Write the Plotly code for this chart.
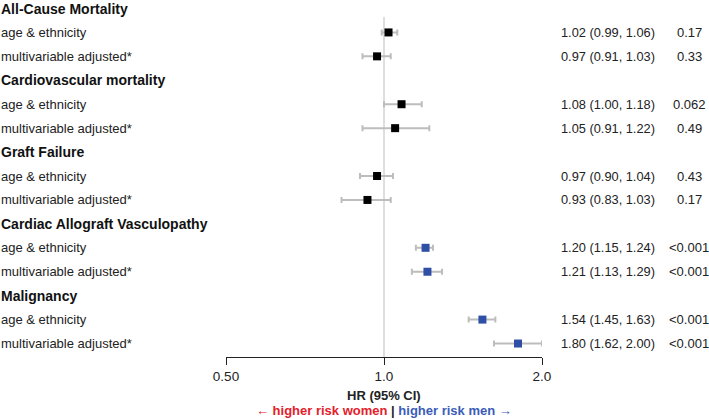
import plotly.graph_objects as go
import numpy as np

groups = ["All-Cause Mortality", "Cardiovascular mortality", "Graft Failure",
          "Cardiac Allograft Vasculopathy", "Malignancy"]
models = ["age & ethnicity", "multivariable adjusted*"]
hr = [1.02, 0.97, 1.08, 1.05, 0.97, 0.93, 1.20, 1.21, 1.54, 1.80]
lo = [0.99, 0.91, 1.00, 0.91, 0.90, 0.83, 1.15, 1.13, 1.45, 1.62]
hi = [1.06, 1.03, 1.18, 1.22, 1.04, 1.03, 1.24, 1.29, 1.63, 2.00]
pvals = ["0.17", "0.33", "0.062", "0.49", "0.43", "0.17", "<0.001", "<0.001", "<0.001", "<0.001"]
tick_vals = [0.5, 1.0, 2.0]
tick_text = ["0.50", "1.0", "2.0"]

FONT = "Liberation Sans, Arial, sans-serif"
BLACK = "#000000"
BLUE = "#2f4ea6"

# row positions: title rows and model rows
row_of_point = []
title_rows = []
r = 0
for g in groups:
    title_rows.append(r)
    r += 1
    for m in models:
        row_of_point.append(r)
        r += 1

L, R_px, W, H = 226, 542, 709, 419
plot_w = R_px - L
top_px, axis_px = 0, 357
row0_px, dy = 8.5, 23.93
y_top = (top_px - row0_px) / dy
y_bot = (axis_px - row0_px) / dy

def px_to_paper_x(px):
    return (px - L) / plot_w

fig = go.Figure()

# reference line at HR = 1
fig.add_shape(type="line", x0=1.0, x1=1.0, xref="x", yref="y",
              y0=(17 - row0_px) / dy, y1=y_bot,
              line=dict(color="#c8c8c8", width=1.2), layer="below")

colors = [BLUE if p.startswith("<") else BLACK for p in pvals]
fig.add_trace(go.Scatter(
    x=hr, y=row_of_point, mode="markers",
    marker=dict(symbol="square", size=8, color=colors, line=dict(width=0)),
    error_x=dict(type="data", symmetric=False,
                 array=[h - v for h, v in zip(hi, hr)],
                 arrayminus=[v - l for v, l in zip(hr, lo)],
                 color="#bdbdbd", thickness=2, width=3),
    showlegend=False, hoverinfo="skip"))

annotations = []
for g, tr in zip(groups, title_rows):
    annotations.append(dict(x=px_to_paper_x(-1), y=tr, xref="paper", yref="y",
                            text="<b>%s</b>" % g, showarrow=False, xanchor="left",
                            yanchor="middle", font=dict(family=FONT, size=14, color="#111")))
for i, rr in enumerate(row_of_point):
    annotations.append(dict(x=px_to_paper_x(-1), y=rr, xref="paper", yref="y",
                            text=models[i % 2], showarrow=False, xanchor="left",
                            yanchor="middle", font=dict(family=FONT, size=13, color="#222")))
    annotations.append(dict(x=px_to_paper_x(559), y=rr, xref="paper", yref="y",
                            text="%.2f (%.2f, %.2f)" % (hr[i], lo[i], hi[i]), showarrow=False,
                            xanchor="left", yanchor="middle",
                            font=dict(family=FONT, size=12.8, color="#222")))
    annotations.append(dict(x=px_to_paper_x(689), y=rr, xref="paper", yref="y",
                            text=pvals[i], showarrow=False, xanchor="center",
                            yanchor="middle", font=dict(family=FONT, size=13, color="#222")))

annotations.append(dict(x=0.5, y=-(395 - axis_px) / axis_px, xref="paper", yref="paper",
                        text="<b>HR (95% CI)</b>", showarrow=False, xanchor="center",
                        yanchor="middle", font=dict(family=FONT, size=13, color="#222")))
annotations.append(dict(x=0.5, y=-(411 - axis_px) / axis_px, xref="paper", yref="paper",
                        text="<b><span style='color:#e3212b'>← higher risk women</span> | "
                             "<span style='color:#3a5cb8'>higher risk men →</span></b>",
                        showarrow=False, xanchor="center", yanchor="middle",
                        font=dict(family=FONT, size=13, color="#222")))

fig.update_layout(
    width=W, height=H,
    margin=dict(l=L, r=W - R_px, t=top_px, b=H - axis_px),
    plot_bgcolor="white", paper_bgcolor="white",
    annotations=annotations,
    xaxis=dict(type="log", range=[np.log10(0.5), np.log10(2.0)],
               tickvals=tick_vals, ticktext=tick_text,
               showgrid=False, zeroline=False, showline=True,
               linecolor="#222", linewidth=1.3, ticks="outside", ticklen=7,
               tickcolor="#222", tickwidth=1.3,
               tickfont=dict(family=FONT, size=13.5, color="#222"), fixedrange=True),
    yaxis=dict(range=[y_bot, y_top], showgrid=False, zeroline=False,
               showticklabels=False, showline=False, fixedrange=True),
)

fig.write_html("out.html", config={"displayModeBar": False},
               post_script="document.body.style.margin='0';")
